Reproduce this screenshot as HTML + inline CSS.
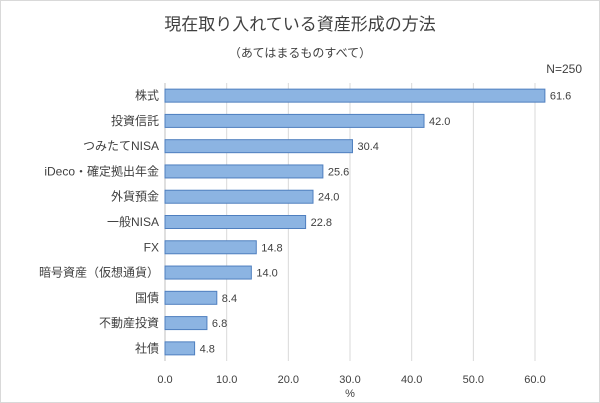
<!DOCTYPE html>
<html><head><meta charset="utf-8"><style>
body{margin:0;background:#fff;}
svg{display:block;font-family:"Liberation Sans","Noto Sans CJK JP",sans-serif;}
</style></head><body>
<svg id="c" width="600" height="403">
<rect x="0.5" y="0.5" width="599" height="402" fill="#fff" stroke="#d9d9d9"/>
<text x="300" y="30" text-anchor="middle" font-size="17" fill="#404040">現在取り入れている資産形成の方法</text>
<text x="300" y="57" text-anchor="middle" font-size="12" fill="#404040">（あてはまるものすべて）</text>
<text x="582" y="73" text-anchor="end" font-size="12" fill="#404040">N=250</text>
<g id="grid"></g><g id="bars"></g><g id="labels"></g>
<text x="350" y="397" text-anchor="middle" font-size="11" fill="#404040">%</text>
</svg>
<script>
const categories=["株式","投資信託","つみたてNISA","iDeco・確定拠出年金","外貨預金","一般NISA","FX","暗号資産（仮想通貨）","国債","不動産投資","社債"];
const values=[61.6,42.0,30.4,25.6,24.0,22.8,14.8,14.0,8.4,6.8,4.8];
const ticks=[0,10,20,30,40,50,60];
const NS="http://www.w3.org/2000/svg";
const x0=165,pxPer=6.167,plotTop=83,plotBottom=361;
const xs=v=>x0+v*pxPer;
const band=(plotBottom-plotTop)/categories.length;
const yc=i=>plotTop+band*(i+0.5);
function mk(t,a,p){const e=document.createElementNS(NS,t);for(const k in a)e.setAttribute(k,a[k]);p.appendChild(e);return e;}
const g=document.getElementById('grid'),b=document.getElementById('bars'),l=document.getElementById('labels');
ticks.forEach(t=>{
 const ln=mk('line',{x1:xs(t),x2:xs(t),y1:plotTop,y2:plotBottom,stroke:t===0?'#bfbfbf':'#d9d9d9','stroke-width':1},g);
 
 
 const tx=mk('text',{x:xs(t),y:383,'text-anchor':'middle','font-size':11,fill:'#404040'},l);
 tx.textContent=t.toFixed(1);
 
 
});
categories.forEach((c,i)=>{
 const y=yc(i);
 const r=mk('rect',{x:x0,y:y-6.5,width:xs(values[i])-x0,height:13,fill:'#8cb4e2',stroke:'#4f7fbf','stroke-width':1},b);
 
 
 const ct=mk('text',{x:x0-6,y:y+4,'text-anchor':'end','font-size':12,fill:'#404040'},l);
 ct.textContent=c;
 
 
 const vt=mk('text',{x:xs(values[i])+5,y:y+4,'font-size':11,fill:'#404040'},l);
 vt.textContent=values[i].toFixed(1);
 
 
});
</script>
</body></html>
